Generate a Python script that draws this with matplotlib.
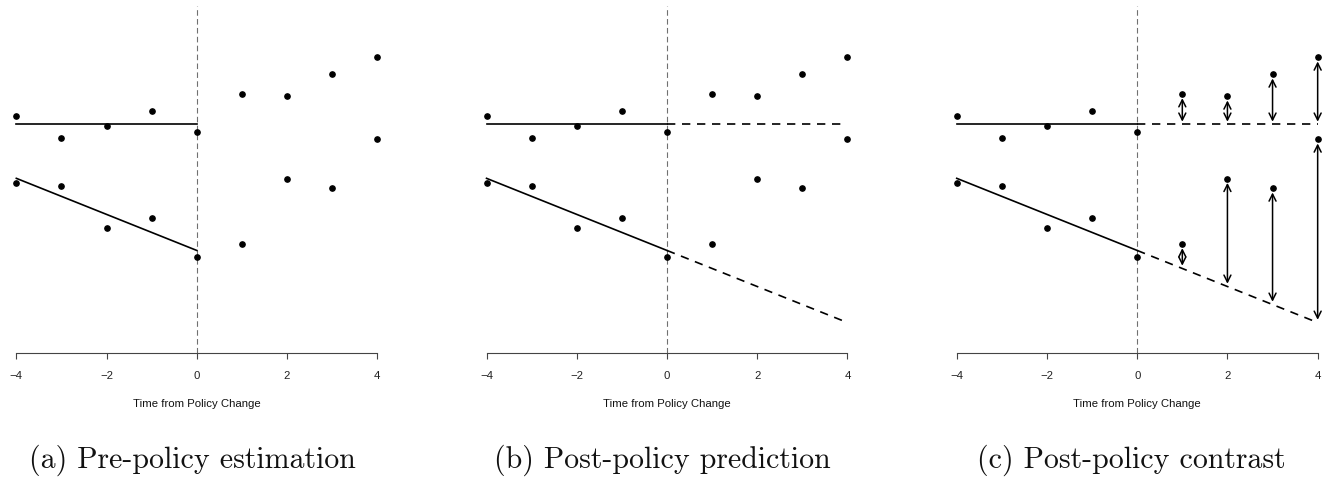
import numpy as np
import matplotlib
matplotlib.use("Agg")
import matplotlib.pyplot as plt

# ---- data ----
time = np.array([-4, -3, -2, -1, 0, 1, 2, 3, 4])
upper = np.array([23.73, 21.47, 22.73, 24.23, 22.10, 25.90, 25.67, 27.87, 29.57])
lower = np.array([17.00, 16.70, 12.50, 13.53, 9.57, 10.90, 17.43, 16.47, 21.37])
xticks = [-4, -2, 0, 2, 4]
xlabel = "Time from Policy Change"
captions = ["(a) Pre-policy estimation", "(b) Post-policy prediction", "(c) Post-policy contrast"]

pre = time <= 0
post = time > 0

# fitted pre-policy models: constant level for the upper series, linear trend for the lower one
up_level = upper[pre].mean()
lo_slope, lo_int = np.polyfit(time[pre], lower[pre], 1)

def up_fit(x):
    return np.full_like(np.asarray(x, dtype=float), up_level)

def lo_fit(x):
    return lo_int + lo_slope * np.asarray(x, dtype=float)

W, H = 1336, 481
fig = plt.figure(figsize=(W / 100, H / 100), dpi=100)

centers = [196.8, 667.0, 1137.2]
cap_centers = [192, 662, 1131]
half_w = 194.9
top_px, bot_px = 7, 354

x_pre = np.array([-4, 0])
x_post = np.array([0, 4])

for i, c in enumerate(centers):
    ax = fig.add_axes([(c - half_w) / W, (H - bot_px) / H, 2 * half_w / W, (bot_px - top_px) / H])
    ax.set_xlim(-4.32, 4.32)
    ax.set_ylim(0, 34.7)
    for s in ["top", "right", "left"]:
        ax.spines[s].set_visible(False)
    ax.spines["bottom"].set_bounds(-4, 4)
    ax.spines["bottom"].set_color("#444444")
    ax.spines["bottom"].set_linewidth(0.8)
    ax.set_yticks([])
    ax.set_xticks(xticks)
    ax.set_xticklabels([str(t).replace("-", "\u2212") for t in xticks])
    ax.tick_params(axis="x", direction="out", length=4, width=0.8, color="#444444",
                   labelsize=8.2, labelcolor="#222222", pad=8)
    for lab in ax.get_xticklabels():
        lab.set_family("Liberation Sans")
    ax.set_xlabel(xlabel, family="Liberation Sans", fontsize=8.2, color="#111111", labelpad=13)

    ax.axvline(0, color="#707070", lw=0.8, ls=(0, (5, 3)), zorder=1)

    ax.plot(time, upper, "o", color="black", ms=3.8, zorder=4)
    ax.plot(time, lower, "o", color="black", ms=3.8, zorder=4)

    ax.plot(x_pre, up_fit(x_pre), color="black", lw=1.2, zorder=3)
    ax.plot(x_pre, lo_fit(x_pre), color="black", lw=1.2, zorder=3)

    if i >= 1:
        ax.plot(x_post, up_fit(x_post), color="black", lw=1.2, ls=(0, (5, 4)), zorder=3)
        ax.plot(x_post, lo_fit(x_post), color="black", lw=1.2, ls=(0, (5, 4)), zorder=3)

    if i == 2:
        for t, yu, yl in zip(time[post], upper[post], lower[post]):
            for obs, fit in ((yu, up_fit(t)), (yl, lo_fit(t))):
                ax.annotate("", xy=(t, obs), xytext=(t, float(fit)),
                            arrowprops=dict(arrowstyle="<->,head_length=0.5,head_width=0.25",
                                            lw=1.1, color="black", shrinkA=2, shrinkB=3))

    fig.text(cap_centers[i] / W, (H - 468) / H, captions[i], family="cmr10",
             fontsize=21.5, ha="center", va="baseline", color="#111111")

fig.savefig("out.png", dpi=100, facecolor="white")
